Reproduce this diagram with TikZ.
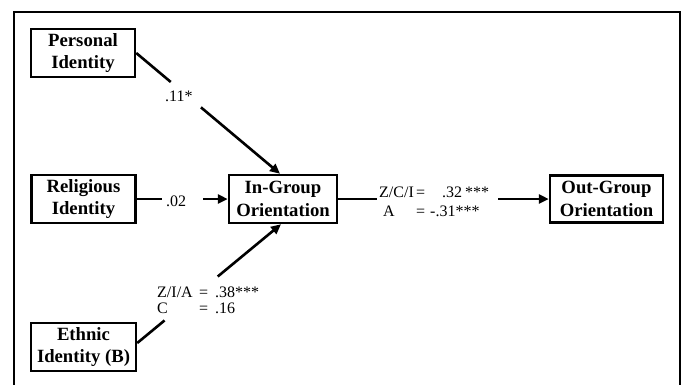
\documentclass[tikz,border=0pt]{standalone}
\usepackage{fontspec}
\setmainfont{Liberation Serif}
\usetikzlibrary{arrows.meta,calc}
\begin{document}
\begin{tikzpicture}[x=1pt,y=-1pt,
  box/.style={draw,line width=2.5pt,minimum width=#1,minimum height=48pt,inner sep=0pt,align=center,font=\fontsize{18.7}{22.5}\selectfont\bfseries},
  conn/.style={line width=2.6pt},
  arr/.style={conn,-{Triangle[length=10pt,width=9pt]}},
  lab/.style={inner sep=0pt,font=\fontsize{16}{18}\selectfont,anchor=base west},
  frame/.style={line width=2.8pt}]
\clip (0,0) rectangle (686,384);
\draw[frame] (14,400) -- (14,12) -- (680,12) -- (680,400);

\node[box=104pt] (pi) at (83,53) {Personal\\Identity};
\node[box=104pt] (ri) at (83.5,199) {Religious\\Identity};
\node[box=105pt] (ei) at (83.5,347) {Ethnic\\Identity (B)};
\node[box=108pt] (ig) at (283,199) {In-Group\\Orientation};
\node[box=113pt,minimum height=47pt] (og) at (606.5,199) {Out-Group\\Orientation};

% labels
\node[lab] (l11) at (165,101) {.11*};
\node[lab] (l02) at (166,206) {.02};
\node[lab] (e1a) at (157,297) {Z/I/A};
\node[lab] (e1b) at (199,297) {=};
\node[lab] (e1c) at (215,297) {.38***};
\node[lab] (e2a) at (157,313) {C};
\node[lab] (e2b) at (199,313) {=};
\node[lab] (e2c) at (215,313) {.16};
\node[lab] (o1a) at (379,197) {Z/C/I};
\node[lab] (o1b) at (416,197) {=};
\node[lab] (o1c) at (442,197) {.32};
\node[lab] (o1d) at (465,197) {***};
\node[lab] (o2a) at (383,216) {A};
\node[lab] (o2b) at (416,216) {=};
\node[lab] (o2c) at (430,216) {-.31***};

% connectors
\coordinate (pt) at ([xshift=-3pt]ig.north);
\draw[conn] (pi.east) -- ($(pi.east)!0.24!(pt)$);
\draw[arr] ($(pi.east)!0.45!(pt)$) -- (pt);

\coordinate (r1) at (162,199);
\coordinate (r2) at (203,199);
\draw[conn] (ri.east) -- (r1);
\draw[arr] (r2) -- (ig.west);

\coordinate (es) at ([yshift=4pt]ei.east);
\coordinate (et) at ([xshift=-2pt]ig.south);
\draw[conn] (es) -- ($(es)!0.19!(et)$);
\draw[arr] ($(es)!0.56!(et)$) -- (et);

\coordinate (m1) at (377,199);
\coordinate (m2) at (498,199);
\draw[conn] (ig.east) -- (m1);
\draw[arr] (m2) -- (og.west);
\end{tikzpicture}
\end{document}
